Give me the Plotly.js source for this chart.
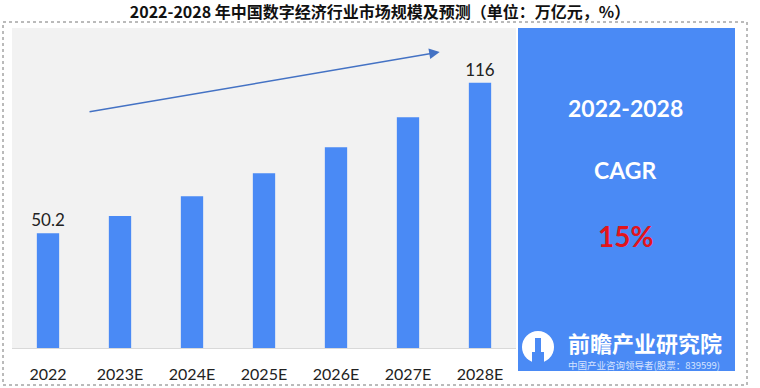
<!DOCTYPE html>
<html>
<head>
<meta charset="utf-8">
<script src="https://cdn.plot.ly/plotly-3.0.1.min.js"></script>
<style>html,body{margin:0;padding:0;background:#fff;}#chart{width:760px;height:388px;}</style>
</head>
<body>
<div id="chart"></div>
<script>
// Data
const categories = ['2022', '2023E', '2024E', '2025E', '2026E', '2027E', '2028E'];
const marketSize = [50.2, 57.7, 66.4, 76.4, 87.8, 101.0, 116];
const barLabels = ['50.2', '', '', '', '', '', '116'];
const titleText = '2022-2028 年中国数字经济行业市场规模及预测（单位：万亿元，%）';
const cagrPeriod = '2022-2028';
const cagrLabel = 'CAGR';
const cagrValue = '15%';
const brandName = '前瞻产业研究院';
const brandSub = '中国产业咨询领导者(股票：839599)';

const BLUE = '#4a8af5';
const FONT = 'Lato, "Noto Sans CJK SC", sans-serif';
const CJK = '"Noto Sans CJK SC", sans-serif';

const trace = {
  type: 'bar',
  x: categories,
  y: marketSize,
  text: barLabels,
  textposition: 'outside',
  constraintext: 'none',
  textfont: {family: FONT, size: 17, color: '#222'},
  marker: {color: BLUE},
  cliponaxis: false,
  hoverinfo: 'skip'
};

// helper paper-coordinate conversion for decoration (plot area 12..516 x, 28..348 y)
const px = p => (p - 12) / 504;
const py = p => (348 - p) / 320;

const shapes = [
  {type: 'rect', xref: 'paper', yref: 'paper', x0: px(3), x1: px(747), y0: py(385), y1: py(22),
   line: {color: '#777', width: 1, dash: 'dot'}, fillcolor: 'rgba(0,0,0,0)', layer: 'below'},
  {type: 'rect', xref: 'paper', yref: 'paper', x0: px(518), x1: px(735), y0: py(371), y1: py(28),
   line: {width: 0}, fillcolor: BLUE, layer: 'above'},
  {type: 'circle', xref: 'paper', yref: 'paper', x0: px(522), x1: px(554), y0: py(363), y1: py(331),
   line: {width: 0}, fillcolor: '#ffffff', layer: 'above'},
  {type: 'rect', xref: 'paper', yref: 'paper', x0: px(535), x1: px(541), y0: py(364), y1: py(338),
   line: {width: 0}, fillcolor: BLUE, layer: 'above'},
  {type: 'rect', xref: 'paper', yref: 'paper', x0: px(532), x1: px(544), y0: py(364), y1: py(352),
   line: {width: 0}, fillcolor: BLUE, layer: 'above'}
];

const annotations = [
  {xref: 'x', yref: 'y', axref: 'x', ayref: 'y', x: 5.44, y: 129.5, ax: 0.556, ay: 103.2,
   showarrow: true, arrowhead: 2, arrowsize: 1.4, arrowwidth: 1.5, arrowcolor: '#4472c4', text: ''},
  {xref: 'paper', yref: 'paper', x: px(625), y: py(108), xanchor: 'center', yanchor: 'middle',
   text: '<b>' + cagrPeriod + '</b>', showarrow: false, font: {family: FONT, size: 23, color: '#ffffff'}},
  {xref: 'paper', yref: 'paper', x: px(625), y: py(170), xanchor: 'center', yanchor: 'middle',
   text: '<b>' + cagrLabel + '</b>', showarrow: false, font: {family: FONT, size: 23, color: '#ffffff'}},
  {xref: 'paper', yref: 'paper', x: px(625), y: py(236), xanchor: 'center', yanchor: 'middle',
   text: '<b>' + cagrValue + '</b>', showarrow: false, font: {family: FONT, size: 28, color: '#e3141b'}},
  {xref: 'paper', yref: 'paper', x: px(645), y: py(342), xanchor: 'center', yanchor: 'middle',
   text: '<b>' + brandName + '</b>', showarrow: false, font: {family: CJK, size: 22, color: '#ffffff'}},
  {xref: 'paper', yref: 'paper', x: px(644), y: py(365), xanchor: 'center', yanchor: 'middle',
   text: brandSub, showarrow: false, font: {family: CJK, size: 9.5, color: '#d6e4ff'}}
];

const layout = {
  width: 760, height: 388,
  margin: {l: 12, r: 244, t: 28, b: 40},
  paper_bgcolor: '#ffffff',
  plot_bgcolor: '#f2f2f2',
  showlegend: false,
  bargap: 0.69,
  title: {text: '<b>' + titleText + '</b>', x: 0.5, xanchor: 'center', y: 1 - 12 / 388, yanchor: 'middle',
    font: {family: CJK, size: 16, color: '#111'}},
  xaxis: {type: 'category', range: [-0.5, 6.5], showgrid: false, zeroline: false,
    showline: true, linecolor: '#d9d9d9', linewidth: 1,
    ticks: 'outside', ticklen: 12, tickcolor: 'rgba(0,0,0,0)',
    tickfont: {family: FONT, size: 16, color: '#222'}, fixedrange: true},
  yaxis: {range: [0, 140], showgrid: false, zeroline: false, showticklabels: false, showline: false,
    fixedrange: true},
  shapes: shapes,
  annotations: annotations
};

Plotly.newPlot('chart', [trace], layout, {displayModeBar: false, staticPlot: true});
</script>
</body>
</html>
